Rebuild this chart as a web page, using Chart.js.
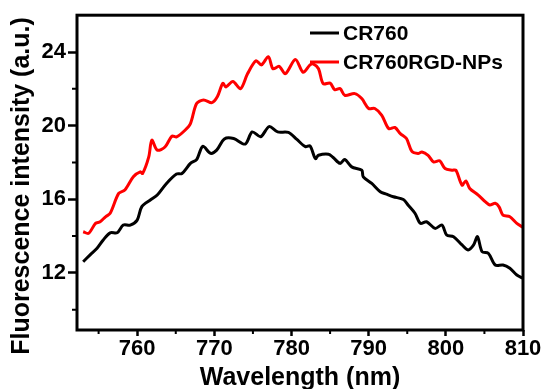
<!DOCTYPE html>
<html>
<head>
<meta charset="utf-8">
<script src="https://cdn.jsdelivr.net/npm/chart.js@4.4.0/dist/chart.umd.min.js"></script>
<style>
  html, body { margin: 0; padding: 0; background: #fff; }
</style>
</head>
<body>
<canvas id="chart" width="547" height="389"></canvas>
<script>
// 系列: CR760
const cr760X = [753.0, 753.9, 754.8, 755.6, 756.5, 757.4, 758.2, 759.1, 760.0, 760.6, 761.7, 762.6, 763.8, 765.1, 765.8,
  766.9, 767.7, 768.5, 769.5, 770.3, 771.3, 772.5, 774.0, 774.9, 776.0, 777.1, 778.2, 779.6, 780.7, 781.8, 782.4,
  783.1, 783.5, 784.8, 785.4, 786.3, 786.9, 787.8, 789.1, 789.3, 790.4, 791.5, 792.3, 793.2, 794.5, 795.1, 796.0,
  796.7, 797.5, 798.6, 799.5, 800.1, 801.0, 802.1, 802.9, 803.6, 804.1, 804.7, 805.5, 806.4, 807.4, 808.3, 809.2, 810.0];
const cr760Y = [12.61, 12.98, 13.34, 13.79, 14.18, 14.18, 14.6, 14.6, 14.87, 15.6, 15.96, 16.23, 16.86, 17.37, 17.4,
  17.95, 18.16, 18.88, 18.5, 18.67, 19.28, 19.3, 19.0, 19.66, 19.4, 19.95, 19.66, 19.63, 19.25, 18.86, 18.9,
  18.21, 18.39, 18.45, 18.27, 17.95, 18.16, 17.76, 17.58, 17.22, 16.86, 16.41, 16.28, 16.14, 15.99, 15.69, 15.24,
  14.69, 14.78, 14.42, 14.6, 14.06, 13.97, 13.52, 13.25, 13.52, 13.97, 13.15, 13.07, 12.43, 12.43, 12.25, 11.89, 11.71];

// 系列: CR760RGD-NPs
const npsX = [753.0, 753.7, 754.6, 755.2, 755.9, 756.5, 757.6, 758.4, 759.5, 760.4, 760.7, 761.5, 761.9, 762.6, 763.6,
  764.5, 765.1, 766.2, 766.9, 767.7, 768.6, 769.7, 770.4, 771.1, 771.5, 772.4, 773.4, 774.3, 775.4, 776.1, 777.0,
  777.6, 778.4, 779.2, 780.5, 781.5, 782.4, 782.8, 783.5, 784.1, 785.0, 785.6, 786.3, 786.9, 788.2, 789.1, 790.0,
  790.8, 791.7, 792.6, 793.4, 794.1, 794.9, 795.6, 796.4, 796.9, 797.7, 798.4, 799.2, 799.9, 800.8, 801.3, 802.1,
  802.6, 803.1, 804.2, 805.1, 805.7, 806.4, 806.9, 807.4, 808.3, 809.2, 810.0];
const npsY = [14.24, 14.15, 14.69, 14.78, 15.05, 15.24, 16.32, 16.5, 17.22, 17.49, 17.4, 18.3, 19.21, 18.67, 18.84,
  19.43, 19.39, 19.75, 20.11, 21.2, 21.4, 21.25, 21.58, 22.3, 22.1, 22.4, 22.01, 22.82, 23.52, 23.3, 23.75,
  23.09, 23.22, 22.82, 23.6, 22.9, 23.3, 23.36, 23.09, 22.28, 22.31, 21.95, 22.01, 21.65, 21.74, 21.47, 20.93,
  20.93, 20.56, 19.84, 19.9, 19.57, 19.3, 18.6, 18.49, 18.57, 18.39, 18.03, 18.09, 17.67, 17.58, 17.58, 16.77,
  17.0, 16.59, 16.23, 15.87, 15.69, 15.78, 15.59, 15.14, 15.05, 14.69, 14.48];

// 目盛り
const xTicks = [760, 770, 780, 790, 800, 810];
const xMinor = [755, 765, 775, 785, 795, 805];
const yTicks = [12, 16, 20, 24];
const yMinor = [10, 14, 18, 22];

const FONT = '"Liberation Sans", Arial, sans-serif';

function toPoints(xs, ys) {
  return xs.map((x, i) => ({ x: x, y: ys[i] }));
}

// 枠・副目盛り・凡例・縦軸タイトル
const decorPlugin = {
  id: 'decor',
  afterDraw(chart) {
    const ctx = chart.ctx;
    const a = chart.chartArea;
    const xs = chart.scales.x;
    const ys = chart.scales.y;
    ctx.save();
    ctx.strokeStyle = '#000';
    ctx.lineWidth = 3;
    ctx.strokeRect(a.left, a.top, a.right - a.left, a.bottom - a.top);

    ctx.lineWidth = 2;
    ctx.beginPath();
    xMinor.forEach(v => {
      const px = xs.getPixelForValue(v);
      ctx.moveTo(px, a.bottom);
      ctx.lineTo(px, a.bottom + 4);
    });
    yMinor.forEach(v => {
      const py = ys.getPixelForValue(v);
      ctx.moveTo(a.left, py);
      ctx.lineTo(a.left - 5, py);
    });
    ctx.stroke();

    // 凡例
    ctx.font = 'bold 21px ' + FONT;
    ctx.textAlign = 'left';
    ctx.textBaseline = 'middle';
    chart.data.datasets.forEach((ds, i) => {
      const y = 33 + i * 29;
      ctx.strokeStyle = ds.borderColor;
      ctx.lineWidth = 3;
      ctx.beginPath();
      ctx.moveTo(310, y);
      ctx.lineTo(339, y);
      ctx.stroke();
      ctx.fillStyle = '#000';
      ctx.fillText(ds.label, 343, y + 1);
    });

    // 縦軸タイトル
    ctx.translate(22, 186);
    ctx.rotate(-Math.PI / 2);
    ctx.font = 'bold 25px ' + FONT;
    ctx.textAlign = 'center';
    ctx.fillText('Fluorescence intensity (a.u.)', 0, 0);
    ctx.restore();
  }
};

function createChart() {
  const ctx = document.getElementById('chart').getContext('2d');
  new Chart(ctx, {
    type: 'line',
    data: {
      datasets: [{
        label: 'CR760',
        data: toPoints(cr760X, cr760Y),
        borderColor: '#000000',
        borderWidth: 3,
        pointRadius: 0,
        tension: 0.3,
        fill: false
      }, {
        label: 'CR760RGD-NPs',
        data: toPoints(npsX, npsY),
        borderColor: '#ff0000',
        borderWidth: 3,
        pointRadius: 0,
        tension: 0.3,
        fill: false
      }]
    },
    options: {
      responsive: false,
      animation: false,
      devicePixelRatio: 1,
      layout: { padding: { top: 13, right: 24, left: 0, bottom: 0 } },
      plugins: {
        legend: { display: false },
        tooltip: { enabled: false }
      },
      scales: {
        x: {
          type: 'linear',
          min: 752.2,
          max: 810,
          afterBuildTicks: s => { s.ticks = xTicks.map(v => ({ value: v })); },
          afterFit: s => { s.height = 59; },
          border: { display: false },
          grid: { drawOnChartArea: false, drawTicks: true, tickLength: 6, tickWidth: 2.5, tickColor: '#000' },
          ticks: { color: '#000', padding: 0, maxRotation: 0, font: { family: FONT, size: 22, weight: 'bold' } },
          title: {
            display: true,
            text: 'Wavelength (nm)',
            color: '#000',
            padding: { top: 0, bottom: -4 },
            font: { family: FONT, size: 25, weight: 'bold' }
          }
        },
        y: {
          min: 8.9,
          max: 26,
          afterBuildTicks: s => { s.ticks = yTicks.map(v => ({ value: v })); },
          afterFit: s => { s.width = 77; },
          border: { display: false },
          grid: { drawOnChartArea: false, drawTicks: true, tickLength: 9, tickWidth: 2.5, tickColor: '#000' },
          ticks: { color: '#000', padding: 2, font: { family: FONT, size: 22, weight: 'bold' } }
        }
      }
    },
    plugins: [decorPlugin]
  });
}

createChart();
</script>
</body>
</html>
